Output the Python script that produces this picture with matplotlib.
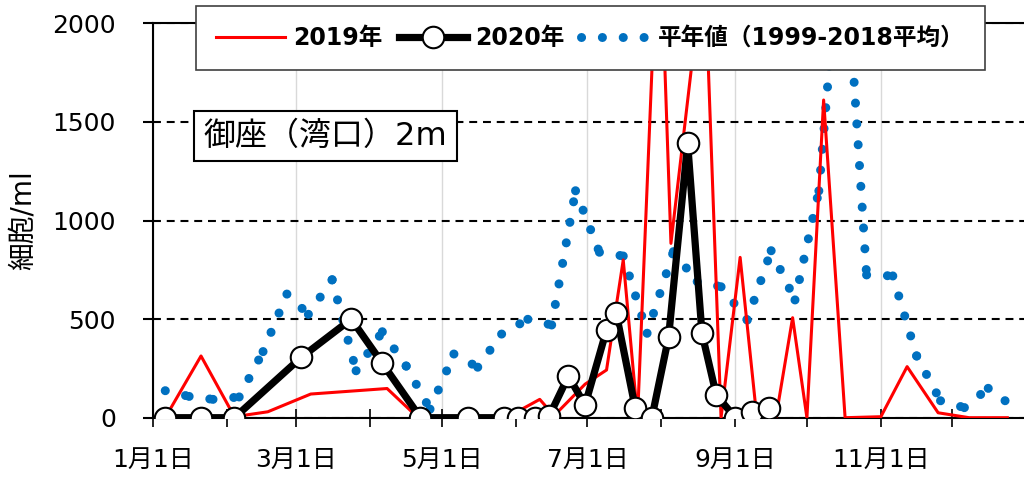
import matplotlib
matplotlib.use("Agg")
import matplotlib.pyplot as plt
import matplotlib.dates as mdates
from matplotlib.collections import LineCollection
from matplotlib.lines import Line2D
import pandas as pd

# digits/latin from DejaVu (wide, like the original), kanji from Noto CJK
plt.rcParams['font.family'] = ['DejaVu Sans', 'Noto Sans CJK JP']

# 2019年 (月-日, 細胞/ml)
dates_2019 = ["01-06", "01-21", "02-04", "02-18", "03-07", "04-08", "04-21", "05-28",
              "06-11", "06-17", "06-30", "07-09", "07-16", "07-22", "07-31", "08-05",
              "08-19", "08-26", "09-03", "09-10", "09-18", "09-25", "10-01", "10-08",
              "10-17", "11-01", "11-12", "11-25", "12-08", "12-24"]
cells_2019 = [0, 313, 5, 30, 120, 148, 0, 0,
              93, 10, 170, 242, 800, 0, 2635, 884,
              2334, 0, 813, 0, 0, 507, 0, 1611,
              0, 5, 259, 25, 0, 0]

# 2020年
dates_2020 = ["01-06", "01-21", "02-04", "03-03", "03-24", "04-06", "04-22", "05-12",
              "05-27", "06-02", "06-09", "06-15", "06-23", "06-30", "07-09", "07-13",
              "07-21", "07-28", "08-04", "08-12", "08-18", "08-24", "09-01", "09-08",
              "09-15"]
cells_2020 = [0, 0, 0, 306, 500, 276, 0, 0,
              0, 0, 0, 9, 211, 64, 445, 533,
              51, 0, 408, 1391, 428, 115, 0, 30,
              47]

# 平年値 (旬別, 1999-2018平均)
dates_normal = ["01-06", "01-16", "01-26", "02-06", "02-16", "02-26",
                "03-06", "03-16", "03-26", "04-06", "04-16", "04-26",
                "05-06", "05-16", "05-26", "06-06", "06-16", "06-26",
                "07-06", "07-16", "07-26", "08-06", "08-16", "08-26",
                "09-06", "09-16", "09-26", "10-06", "10-16", "10-26",
                "11-06", "11-16", "11-26", "12-06", "12-16", "12-26"]
cells_normal = [137, 108, 93, 105, 335, 627,
                524, 700, 238, 436, 262, 43,
                323, 256, 424, 499, 470, 1151,
                839, 820, 428, 842, 690, 664,
                495, 847, 597, 1150, 2600, 724,
                719, 313, 86, 51, 149, 60]

label_2019 = "2019年"
label_2020 = "2020年"
label_normal = "平年値（1999-2018平均）"
station = "御座（湾口）2m"


def to_num(md):
    return mdates.date2num(pd.to_datetime(["2020-" + s for s in md]))


x19 = to_num(dates_2019)
x20 = to_num(dates_2020)
xn = to_num(dates_normal)

fig = plt.figure(figsize=(10.24, 4.82), dpi=100)
ax = fig.add_axes([153.3 / 1024, 1 - 417.7 / 482, 1 - 153.3 / 1024, (417.7 - 23.3) / 482])

blue = '#0070C0'
dots = (0, (0.01, 2.3))

# 平年値: each segment drawn on its own so the dot pattern restarts at every point
segs = [[(xn[i], cells_normal[i]), (xn[i + 1], cells_normal[i + 1])] for i in range(len(xn) - 1)]
lc = LineCollection(segs, colors=blue, linewidths=6.5, linestyles=[dots],
                    capstyle='round', zorder=2)
ax.add_collection(lc)

l19, = ax.plot(x19, cells_2019, color='red', lw=2.2, zorder=3)
l20, = ax.plot(x20, cells_2020, color='black', lw=5.2, marker='o', ms=15.5,
               mfc='white', mec='black', mew=1.5, zorder=4)

start = mdates.date2num(pd.Timestamp("2020-01-01"))
ax.set_xlim(start, start + 365)
ax.set_ylim(0, 2000)
ax.set_yticks([0, 500, 1000, 1500, 2000])

ax.xaxis.set_major_locator(mdates.MonthLocator())
ax.xaxis.set_major_formatter(plt.FuncFormatter(
    lambda v, p: f"{mdates.num2date(v).month}月1日" if mdates.num2date(v).month % 2 == 1 else ""))

for t in ax.get_xticks():
    if mdates.num2date(t).month % 2 == 1:
        ax.axvline(t, color='#D9D9D9', lw=1, zorder=1)
ax.yaxis.grid(True, color='black', lw=1.5, ls=(0, (3.8, 2.8)))

for s in ['left', 'bottom', 'top']:
    ax.spines[s].set_linewidth(1.5)
    ax.spines[s].set_color('black')
ax.spines['right'].set_visible(False)

ax.tick_params(axis='y', direction='out', length=7, width=1.5, pad=20, labelsize=18)
ax.tick_params(axis='x', direction='inout', length=13, width=1.2, pad=15, labelsize=18)

fig.text(23 / 1024, 1 - 220 / 482, "細胞/ml", rotation=90, ha='center', va='center', fontsize=20)

fig.text(325.5 / 1024, 1 - 136 / 482, station, ha='center', va='center', fontsize=23,
         bbox=dict(boxstyle='square,pad=0.3', fc='white', ec='black', lw=1.5), zorder=6)

h_normal = Line2D([], [], color=blue, lw=6.5, ls=dots, dash_capstyle='round')
leg = ax.legend([l19, l20, h_normal], [label_2019, label_2020, label_normal],
                loc='upper left', bbox_to_anchor=(196 / 1024, 1 - 6 / 482),
                bbox_transform=fig.transFigure, ncol=3, fancybox=False, framealpha=1,
                borderaxespad=0, handlelength=2.9, handletextpad=0.35, columnspacing=0.7,
                borderpad=0.85, prop={'weight': 'bold', 'size': 17})
leg.get_frame().set_edgecolor('#404040')
leg.get_frame().set_linewidth(1.2)
leg.set_zorder(7)

fig.savefig("out.png", dpi=100)
